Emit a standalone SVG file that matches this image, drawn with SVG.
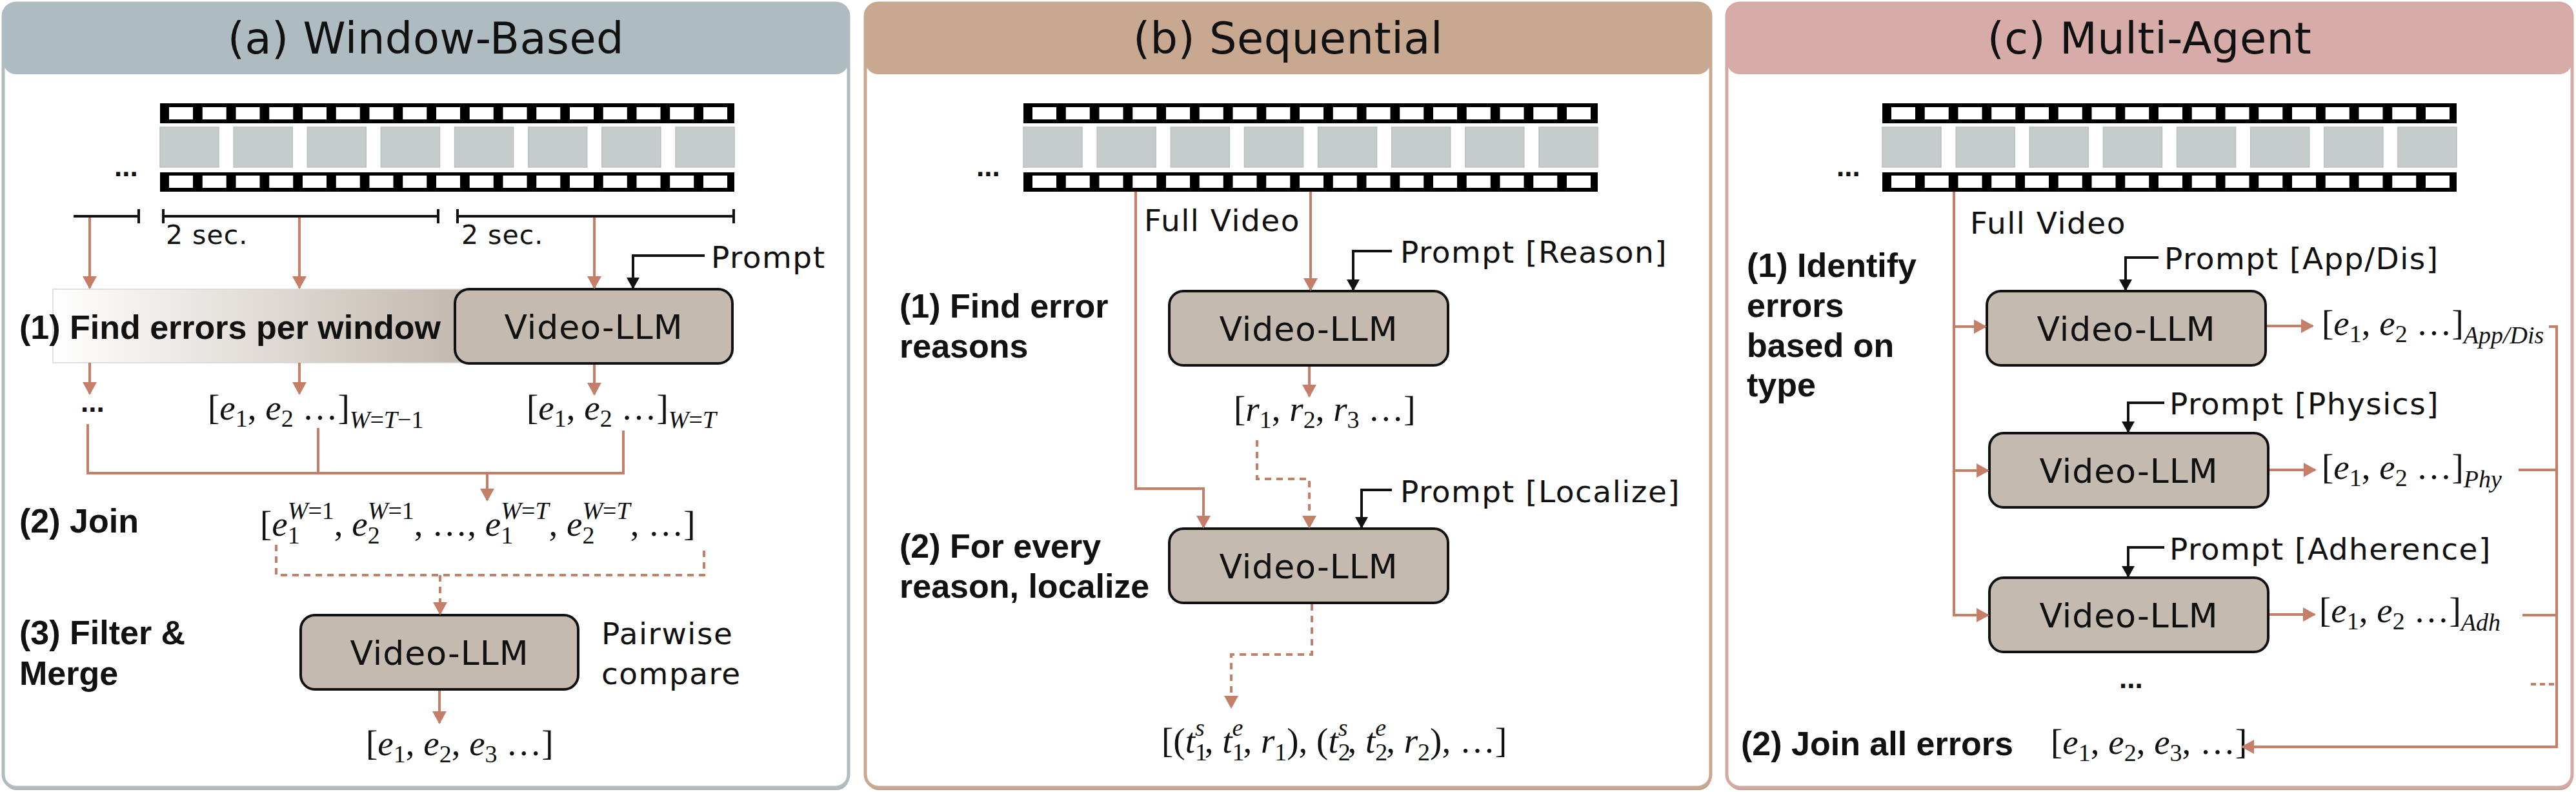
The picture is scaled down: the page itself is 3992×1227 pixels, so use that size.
<svg xmlns="http://www.w3.org/2000/svg" width="3992" height="1227" viewBox="0 0 3992 1227">
<defs>
<style>
.t{font-family:"DejaVu Sans","Liberation Sans",sans-serif;fill:#111;font-size:47px;letter-spacing:1.5px}
.title{font-size:67px;text-anchor:middle;letter-spacing:0.5px}
.sec{font-size:41px;letter-spacing:1px}
.bt{font-family:"DejaVu Sans","Liberation Sans",sans-serif;fill:#111;font-size:52px;letter-spacing:1px;text-anchor:middle}
.b{font-family:"Liberation Sans",Arial,sans-serif;font-weight:700;font-size:52px;fill:#111}
.dots{font-family:"Liberation Sans",Arial,sans-serif;font-weight:700;font-size:44px;fill:#111}
.m{font-family:"Liberation Serif","Times New Roman",serif;font-size:55px;fill:#111}
.mi{font-style:italic}
.ms{font-size:38px}
.box{fill:#c4bab0;stroke:#111;stroke-width:4}
.c{fill:none;stroke:#c57f68;stroke-width:4}
.cd{fill:none;stroke:#c57f68;stroke-width:4;stroke-dasharray:10 8}
.k{fill:none;stroke:#111;stroke-width:4}
.perf{fill:#fff}
</style>
<marker id="ao" markerUnits="userSpaceOnUse" viewBox="0 0 20 22" markerWidth="20" markerHeight="22" refX="18" refY="11" orient="auto"><path d="M0,0 L20,11 L0,22 z" fill="#c57f68"/></marker>
<marker id="ak" markerUnits="userSpaceOnUse" viewBox="0 0 18 20" markerWidth="18" markerHeight="20" refX="16" refY="10" orient="auto"><path d="M0,0 L18,10 L0,20 z" fill="#111"/></marker>
<linearGradient id="band" x1="0" y1="0" x2="1" y2="0"><stop offset="0" stop-color="#ffffff"/><stop offset="1" stop-color="#c2b8ae"/></linearGradient>
<g id="perf" class="perf">
<rect x="14" width="37" height="19"/><rect x="65.75" width="37" height="19"/><rect x="117.5" width="37" height="19"/><rect x="169.25" width="37" height="19"/><rect x="221" width="37" height="19"/><rect x="272.75" width="37" height="19"/><rect x="324.5" width="37" height="19"/><rect x="376.25" width="37" height="19"/><rect x="428" width="37" height="19"/><rect x="479.75" width="37" height="19"/><rect x="531.5" width="37" height="19"/><rect x="583.25" width="37" height="19"/><rect x="635" width="37" height="19"/><rect x="686.75" width="37" height="19"/><rect x="738.5" width="37" height="19"/><rect x="790.25" width="37" height="19"/><rect x="842" width="37" height="19"/>
</g>
<g id="film">
<rect x="0" y="0" width="890" height="31" fill="#000"/>
<rect x="0" y="107" width="890" height="30" fill="#000"/>
<use href="#perf" y="6"/>
<use href="#perf" y="112"/>
<g fill="#c5cccb" stroke="#b9c0bf" stroke-width="1.5">
<rect x="0" y="37" width="91" height="62"/><rect x="114.14" y="37" width="91" height="62"/><rect x="228.29" y="37" width="91" height="62"/><rect x="342.43" y="37" width="91" height="62"/><rect x="456.57" y="37" width="91" height="62"/><rect x="570.71" y="37" width="91" height="62"/><rect x="684.86" y="37" width="91" height="62"/><rect x="799" y="37" width="91" height="62"/>
</g>
</g>
</defs>

<rect width="3992" height="1227" fill="#fff"/>

<!-- Panel backgrounds -->
<g id="panel-a">
<rect x="6" y="9" width="1310" height="1215" rx="20" fill="#a5b1b5"/>
<rect x="5" y="5" width="1310" height="1215" rx="20" fill="#fff" stroke="#b1bcc0" stroke-width="5"/>
<rect x="5" y="5" width="1310" height="110" rx="20" fill="#aebbc0"/>
<text class="t title" x="660" y="83">(a) Window-Based</text>
<use href="#film" x="248" y="160"/>
<text class="dots" x="177" y="273">...</text>
<text class="t sec" x="257" y="378">2 sec.</text>
<text class="t sec" x="715" y="378">2 sec.</text>
<text class="t" x="1102" y="415">Prompt</text>
<rect x="82" y="448" width="640" height="114" fill="url(#band)" stroke="#d6d6d6" stroke-width="1.5"/>
<text class="b" x="30" y="525">(1) Find errors per window</text>
<text class="dots" x="125" y="638">...</text>
<text class="m" x="322" y="650">[<tspan class="mi">e</tspan><tspan class="ms" dy="11">1</tspan><tspan dy="-11">, </tspan><tspan class="mi">e</tspan><tspan class="ms" dy="11">2</tspan><tspan dy="-11"> …]</tspan><tspan class="ms" dy="13"><tspan class="mi">W</tspan>=<tspan class="mi">T</tspan>−1</tspan></text>
<text class="m" x="816" y="650">[<tspan class="mi">e</tspan><tspan class="ms" dy="11">1</tspan><tspan dy="-11">, </tspan><tspan class="mi">e</tspan><tspan class="ms" dy="11">2</tspan><tspan dy="-11"> …]</tspan><tspan class="ms" dy="13"><tspan class="mi">W</tspan>=<tspan class="mi">T</tspan></tspan></text>
<text class="b" x="30" y="825">(2) Join</text>
<text class="m" x="403" y="830">[<tspan class="mi">e</tspan><tspan class="ms" dy="12">1</tspan><tspan class="ms" dx="-19" dy="-38"><tspan class="mi">W</tspan>=1</tspan><tspan dy="26">, </tspan><tspan class="mi">e</tspan><tspan class="ms" dy="12">2</tspan><tspan class="ms" dx="-19" dy="-38"><tspan class="mi">W</tspan>=1</tspan><tspan dy="26">, …, </tspan><tspan class="mi">e</tspan><tspan class="ms" dy="12">1</tspan><tspan class="ms" dx="-19" dy="-38"><tspan class="mi">W</tspan>=<tspan class="mi">T</tspan></tspan><tspan dy="26">, </tspan><tspan class="mi">e</tspan><tspan class="ms" dy="12">2</tspan><tspan class="ms" dx="-19" dy="-38"><tspan class="mi">W</tspan>=<tspan class="mi">T</tspan></tspan><tspan dy="26">, …]</tspan></text>
<text class="b" x="30" y="998">(3) Filter &amp;</text>
<text class="b" x="30" y="1061">Merge</text>
<text class="t" x="932" y="998">Pairwise</text>
<text class="t" x="932" y="1060">compare</text>
<text class="m" x="567" y="1170">[<tspan class="mi">e</tspan><tspan class="ms" dy="11">1</tspan><tspan dy="-11">, </tspan><tspan class="mi">e</tspan><tspan class="ms" dy="11">2</tspan><tspan dy="-11">, </tspan><tspan class="mi">e</tspan><tspan class="ms" dy="11">3</tspan><tspan dy="-11"> …]</tspan></text>
</g>

<g id="panel-b">
<rect x="1342" y="9" width="1310" height="1215" rx="20" fill="#b9987f"/>
<rect x="1341" y="5" width="1310" height="1215" rx="20" fill="#fff" stroke="#c9a891" stroke-width="5"/>
<rect x="1341" y="5" width="1310" height="110" rx="20" fill="#c9a891"/>
<text class="t title" x="1996" y="83">(b) Sequential</text>
<use href="#film" x="1586" y="160"/>
<text class="dots" x="1513" y="273">...</text>
<text class="t" x="1773" y="358">Full Video</text>
<text class="t" x="2170" y="407">Prompt [Reason]</text>
<text class="b" x="1394" y="492">(1) Find error</text>
<text class="b" x="1394" y="554">reasons</text>
<text class="m" x="1912" y="652">[<tspan class="mi">r</tspan><tspan class="ms" dy="11">1</tspan><tspan dy="-11">, </tspan><tspan class="mi">r</tspan><tspan class="ms" dy="11">2</tspan><tspan dy="-11">, </tspan><tspan class="mi">r</tspan><tspan class="ms" dy="11">3</tspan><tspan dy="-11"> …]</tspan></text>
<text class="t" x="2170" y="778">Prompt [Localize]</text>
<text class="b" x="1394" y="864">(2) For every</text>
<text class="b" x="1394" y="926">reason, localize</text>
<text class="m" x="1800" y="1166">[(<tspan class="mi">t</tspan><tspan class="ms" dy="12">1</tspan><tspan class="ms mi" dx="-19" dy="-38">s</tspan><tspan dy="26">, </tspan><tspan class="mi">t</tspan><tspan class="ms" dy="12">1</tspan><tspan class="ms mi" dx="-19" dy="-38">e</tspan><tspan dy="26">, </tspan><tspan class="mi">r</tspan><tspan class="ms" dy="12">1</tspan><tspan dy="-12">), (</tspan><tspan class="mi">t</tspan><tspan class="ms" dy="12">2</tspan><tspan class="ms mi" dx="-19" dy="-38">s</tspan><tspan dy="26">, </tspan><tspan class="mi">t</tspan><tspan class="ms" dy="12">2</tspan><tspan class="ms mi" dx="-19" dy="-38">e</tspan><tspan dy="26">, </tspan><tspan class="mi">r</tspan><tspan class="ms" dy="12">2</tspan><tspan dy="-12">), …]</tspan></text>
</g>

<g id="panel-c">
<rect x="2677" y="9" width="1310" height="1215" rx="20" fill="#c49793"/>
<rect x="2676" y="5" width="1310" height="1215" rx="20" fill="#fff" stroke="#d4a9a5" stroke-width="5"/>
<rect x="2676" y="5" width="1310" height="110" rx="20" fill="#d7aca8"/>
<text class="t title" x="3331" y="83">(c) Multi-Agent</text>
<use href="#film" x="2917" y="160"/>
<text class="dots" x="2846" y="273">...</text>
<text class="t" x="3053" y="362">Full Video</text>
<text class="b" x="2707" y="429">(1) Identify</text>
<text class="b" x="2707" y="491">errors</text>
<text class="b" x="2707" y="553">based on</text>
<text class="b" x="2707" y="614">type</text>
<text class="t" x="3354" y="417">Prompt [App/Dis]</text>
<text class="t" x="3362" y="642">Prompt [Physics]</text>
<text class="t" x="3362" y="867">Prompt [Adherence]</text>
<text class="m" x="3598" y="519">[<tspan class="mi">e</tspan><tspan class="ms" dy="11">1</tspan><tspan dy="-11">, </tspan><tspan class="mi">e</tspan><tspan class="ms" dy="11">2</tspan><tspan dy="-11"> …]</tspan><tspan class="ms mi" dy="13">App/Dis</tspan></text>
<text class="m" x="3598" y="742">[<tspan class="mi">e</tspan><tspan class="ms" dy="11">1</tspan><tspan dy="-11">, </tspan><tspan class="mi">e</tspan><tspan class="ms" dy="11">2</tspan><tspan dy="-11"> …]</tspan><tspan class="ms mi" dy="13">Phy</tspan></text>
<text class="m" x="3594" y="964">[<tspan class="mi">e</tspan><tspan class="ms" dy="11">1</tspan><tspan dy="-11">, </tspan><tspan class="mi">e</tspan><tspan class="ms" dy="11">2</tspan><tspan dy="-11"> …]</tspan><tspan class="ms mi" dy="13">Adh</tspan></text>
<text class="dots" x="3284" y="1066">...</text>
<text class="b" x="2698" y="1170">(2) Join all errors</text>
<text class="m" x="3178" y="1168">[<tspan class="mi">e</tspan><tspan class="ms" dy="11">1</tspan><tspan dy="-11">, </tspan><tspan class="mi">e</tspan><tspan class="ms" dy="11">2</tspan><tspan dy="-11">, </tspan><tspan class="mi">e</tspan><tspan class="ms" dy="11">3</tspan><tspan dy="-11">, …]</tspan></text>
</g>

<!-- Nodes -->
<g id="node-a1"><rect class="box" x="705" y="448" width="430" height="115" rx="22"/><text class="bt" x="920" y="525">Video-LLM</text></g>
<g id="node-a2"><rect class="box" x="466" y="953" width="430" height="115" rx="22"/><text class="bt" x="681" y="1030">Video-LLM</text></g>
<g id="node-b1"><rect class="box" x="1812" y="451" width="432" height="115" rx="22"/><text class="bt" x="2028" y="528">Video-LLM</text></g>
<g id="node-b2"><rect class="box" x="1812" y="819" width="432" height="115" rx="22"/><text class="bt" x="2028" y="896">Video-LLM</text></g>
<g id="node-c1"><rect class="box" x="3079" y="451" width="432" height="115" rx="22"/><text class="bt" x="3295" y="528">Video-LLM</text></g>
<g id="node-c2"><rect class="box" x="3083" y="671" width="432" height="115" rx="22"/><text class="bt" x="3299" y="748">Video-LLM</text></g>
<g id="node-c3"><rect class="box" x="3083" y="895" width="432" height="115" rx="22"/><text class="bt" x="3299" y="972">Video-LLM</text></g>

<!-- Connectors -->
<g id="connectors">
<g class="k">
<path d="M114,335 H215 M215,324 V346 M253,324 V346 M253,335 H679 M679,324 V346 M709,324 V346 M709,335 H1137 M1137,324 V346"/>
</g>
<path class="k" d="M1092,396 H981 V446" marker-end="url(#ak)"/>
<path class="k" d="M2157,389 H2097 V449" marker-end="url(#ak)"/>
<path class="k" d="M2157,759 H2110 V817" marker-end="url(#ak)"/>
<path class="k" d="M3345,399 H3294 V449" marker-end="url(#ak)"/>
<path class="k" d="M3354,624 H3298 V669" marker-end="url(#ak)"/>
<path class="k" d="M3354,848 H3298 V893" marker-end="url(#ak)"/>

<path class="c" d="M139,337 V446" marker-end="url(#ao)"/>
<path class="c" d="M464,337 V446" marker-end="url(#ao)"/>
<path class="c" d="M921,337 V446" marker-end="url(#ao)"/>
<path class="c" d="M139,562 V610" marker-end="url(#ao)"/>
<path class="c" d="M464,562 V610" marker-end="url(#ao)"/>
<path class="c" d="M921,565 V611" marker-end="url(#ao)"/>
<path class="c" d="M136,657 V733 H966 V667 M493,663 V733"/>
<path class="c" d="M755,733 V775" marker-end="url(#ao)"/>
<path class="cd" d="M428,844 V891 H1091 V852"/>
<path class="cd" d="M682,891 V951" marker-end="url(#ao)"/>
<path class="c" d="M681,1070 V1120" marker-end="url(#ao)"/>

<path class="c" d="M1760,297 V757 H1865 V817" marker-end="url(#ao)"/>
<path class="c" d="M2031,297 V449" marker-end="url(#ao)"/>
<path class="c" d="M2029,568 V614" marker-end="url(#ao)"/>
<path class="cd" d="M1948,682 V742 H2029 V817" marker-end="url(#ao)"/>
<path class="cd" d="M2033,936 V1014 H1908 V1096" marker-end="url(#ao)"/>

<path class="c" d="M3028,297 V953 H3081" marker-end="url(#ao)"/>
<path class="c" d="M3028,506 H3077" marker-end="url(#ao)"/>
<path class="c" d="M3028,729 H3081" marker-end="url(#ao)"/>
<path class="c" d="M3513,505 H3584" marker-end="url(#ao)"/>
<path class="c" d="M3517,728 H3588" marker-end="url(#ao)"/>
<path class="c" d="M3517,952 H3587" marker-end="url(#ao)"/>
<path class="c" d="M3950,506 H3962 V1157 H3475" marker-end="url(#ao)"/>
<path class="c" d="M3903,728 H3962 M3909,953 H3962"/>
<path class="c" d="M3922,1060 H3962" stroke-dasharray="8 6"/>
</g>
</svg>
